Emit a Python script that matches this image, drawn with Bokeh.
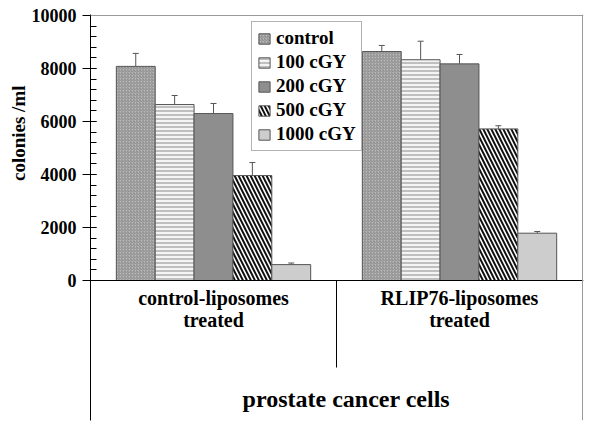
from bokeh.plotting import figure
from bokeh.models import (ColumnDataSource, Range1d, FixedTicker, Span, Whisker,
                          TeeHead, Label, Title)
from bokeh.core.properties import value
from bokeh.embed import file_html
from bokeh.resources import INLINE

# ---------------- data ----------------
groups = ["control-liposomes\ntreated", "RLIP76-liposomes\ntreated"]
doses = ["control", "100 cGY", "200 cGY", "500 cGY", "1000 cGY"]
val_control = [8080, 8640]
val_100 = [6640, 8330]
val_200 = [6300, 8175]
val_500 = [3960, 5720]
val_1000 = [600, 1785]
err_control = [490, 230]
err_100 = [340, 700]
err_200 = [380, 355]
err_500 = [490, 120]
err_1000 = [60, 65]
y_ticks = [0, 2000, 4000, 6000, 8000, 10000]
x_title = "prostate cancer cells"
y_title = "colonies /ml"

values = [val_control, val_100, val_200, val_500, val_1000]
errors = [err_control, err_100, err_200, err_500, err_1000]

# ---------------- styles ----------------
styles = [
    dict(fill_color="#b9b9b9", hatch_pattern="/", hatch_color="#8a8a8a", hatch_scale=3, hatch_weight=1),
    dict(fill_color="#f4f4f4", hatch_pattern="-", hatch_color="#8a8a8a", hatch_scale=4, hatch_weight=1),
    dict(fill_color="#8e8e8e"),
    dict(fill_color="#ffffff", hatch_pattern="\\", hatch_color="#111111", hatch_scale=8, hatch_weight=2),
    dict(fill_color="#cdcdcd"),
]
FONT = "Liberation Serif"
PX = 10000 / 265.0          # data units per pixel (vertical)
BAR_W = 0.158

p = figure(width=584, height=424, output_backend="svg", toolbar_location=None,
           x_axis_location=None, y_axis_location="left",
           x_range=Range1d(0, 2.004), y_range=Range1d(-140 * PX, 10000 + PX))
p.min_border = 0
p.min_border_left = 90
p.min_border_right = 1
p.min_border_top = 14
p.min_border_bottom = 4
p.grid.visible = False
p.outline_line_color = None
p.background_fill_color = "white"

n = len(doses)
for i, (name, vals, errs, st) in enumerate(zip(doses, values, errors, styles)):
    off = (i - (n - 1) / 2) * BAR_W
    xs = [g + 0.5 + off for g in range(len(groups))]
    src = ColumnDataSource(dict(x=xs, top=vals, upper=[v + e for v, e in zip(vals, errs)]))
    p.vbar(x="x", top="top", bottom=0, width=BAR_W, source=src,
           line_color="#555555", line_width=1, legend_label=name, **st)
    p.add_layout(Whisker(base="x", lower="top", upper="upper", source=src,
                         dimension="height", line_color="#555555", line_width=1,
                         upper_head=TeeHead(size=6, line_color="#555555", line_width=1),
                         lower_head=None))

# frame lines
p.add_layout(Span(location=0, dimension="width", line_color="black", line_width=1))
p.add_layout(Span(location=10000, dimension="width", line_color="#9a9a9a", line_width=1))
p.add_layout(Span(location=2.0, dimension="height", line_color="#9a9a9a", line_width=1))
p.segment(x0=[1.0], y0=[0], x1=[1.0], y1=[-87 * PX], line_color="black", line_width=1)

# category labels
p.text(x=[g + 0.5 for g in range(len(groups))], y=[-6 * PX] * len(groups), text=groups,
       text_font=value(FONT), text_font_style="bold", text_font_size="20px",
       text_align="center", text_baseline="top", text_color="black", text_line_height=1.0)

p.add_layout(Label(x=1.04, y=-118 * PX, text=x_title, text_font=FONT,
                   text_font_style="bold", text_font_size="24px", text_align="center",
                   text_baseline="alphabetic", text_color="black"))

# y axis
ax = p.yaxis[0]
ax.ticker = FixedTicker(ticks=y_ticks, minor_ticks=list(range(0, 10001, 400)))
ax.axis_line_color = "black"
ax.major_tick_line_color = "black"
ax.minor_tick_line_color = "black"
ax.major_tick_out = 8
ax.major_tick_in = 6
ax.minor_tick_out = 0
ax.minor_tick_in = 6
ax.major_label_standoff = 6
ax.major_label_text_font = FONT
ax.major_label_text_font_style = "bold"
ax.major_label_text_font_size = "18px"
ax.major_label_text_color = "black"

# y title (placed along the upper part of the left side)
p.add_layout(Title(text=y_title, align="right", offset=71, standoff=0,
                   text_font=FONT, text_font_style="bold", text_font_size="19px",
                   text_color="black"), "left")

# legend
lg = p.legend[0]
lg.location = (161, 269)
lg.label_text_font = FONT
lg.label_text_font_style = "bold"
lg.label_text_font_size = "19px"
lg.label_text_color = "black"
lg.label_height = 19
lg.glyph_height = 13
lg.glyph_width = 14
lg.label_standoff = 5
lg.spacing = 2
lg.padding = 5
lg.margin = 0
lg.border_line_color = "#666666"
lg.border_line_width = 1
lg.background_fill_alpha = 1

open("out.html", "w").write(file_html(p, INLINE))
